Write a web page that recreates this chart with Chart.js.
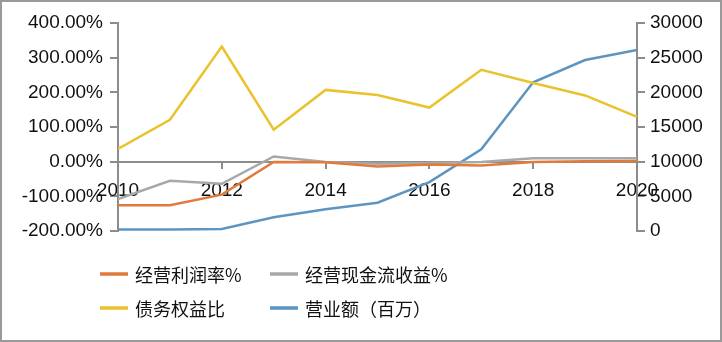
<!DOCTYPE html>
<html>
<head>
<meta charset="utf-8">
<script src="https://cdn.jsdelivr.net/npm/chart.js@4"></script>
<style>
  body { margin: 0; background: #fff; }
  #wrap { width: 722px; height: 342px; }
</style>
</head>
<body>
<div id="wrap"><canvas id="myChart" width="722" height="342"></canvas></div>
<script>
// 年份
const years = [2010, 2011, 2012, 2013, 2014, 2015, 2016, 2017, 2018, 2019, 2020]

// 左轴 (%)
const opMargin = [-126, -126, -95, -1, -2, -14, -8, -11, -1, 1, 2]
const cashYield = [-108, -55, -64, 15, -1, -6, -4, -1, 10, 10, 10]
const debtEquity = [37, 121, 332, 92, 207, 192, 156, 265, 227, 191, 129]

// 右轴 (百万)
const revenue = [200, 200, 300, 1970, 3130, 4080, 7050, 11780, 21440, 24660, 26100]

const seriesNames = ['经营利润率%', '经营现金流收益%', '债务权益比', '营业额（百万）']
const seriesColors = ['#e07b3c', '#a8a8a8', '#eac22e', '#5d95c2']

const leftTicks = [-200, -100, 0, 100, 200, 300, 400]
const rightTicks = [0, 5000, 10000, 15000, 20000, 25000, 30000]

const axisColor = '#8c8c8c'
const tickFont = { family: 'Liberation Sans, Arial, sans-serif', size: 19 }

function pts(arr) {
    return years.map((y, i) => ({ x: y, y: arr[i] }))
}

function line(i, arr, axis) {
    return {
        label: seriesNames[i],
        data: pts(arr),
        yAxisID: axis,
        borderColor: seriesColors[i],
        backgroundColor: seriesColors[i],
        borderWidth: 2.5,
        pointRadius: 0,
        tension: 0
    }
}

// 图例画成两列两行
const legend2x2 = {
    id: 'legend2x2',
    afterDraw(chart) {
        const c = chart.ctx
        const cols = [100, 270]
        const rows = [274, 308]
        c.save()
        c.font = '18px "Noto Sans CJK SC", sans-serif'
        c.textBaseline = 'middle'
        c.fillStyle = '#111'
        seriesNames.forEach((name, i) => {
            const x = cols[i % 2]
            const y = rows[Math.floor(i / 2)]
            c.strokeStyle = seriesColors[i]
            c.lineWidth = 3.5
            c.beginPath()
            c.moveTo(x, y)
            c.lineTo(x + 28, y)
            c.stroke()
            c.fillText(name, x + 35, y + 1)
        })
        // 外框
        c.strokeStyle = '#9a9a9a'
        c.lineWidth = 2
        c.strokeRect(1, 1, chart.width - 2, chart.height - 2)
        c.restore()
    }
}

const ctx = document.getElementById('myChart')

const config = {
    type: 'line',
    data: {
        datasets: [
            line(0, opMargin, 'y'),
            line(1, cashYield, 'y'),
            line(2, debtEquity, 'y'),
            line(3, revenue, 'y1')
        ]
    },
    options: {
        responsive: false,
        animation: false,
        layout: { padding: { left: 0, right: 0, top: 23, bottom: 111 } },
        plugins: {
            legend: { display: false },
            tooltip: { enabled: false }
        },
        scales: {
            x: {
                type: 'linear',
                position: { y: 0 },
                min: 2010,
                max: 2020,
                ticks: {
                    stepSize: 2,
                    color: '#111',
                    font: tickFont,
                    padding: 12,
                    maxRotation: 0,
                    callback: v => String(v)
                },
                grid: { drawOnChartArea: false, tickLength: 6, color: axisColor, lineWidth: 2 },
                border: { color: axisColor, width: 2 }
            },
            y: {
                position: 'left',
                min: -200,
                max: 400,
                afterBuildTicks: s => { s.ticks = leftTicks.map(v => ({ value: v })) },
                afterFit: s => { s.width = 118 },
                ticks: {
                    color: '#111',
                    font: tickFont,
                    padding: 7,
                    callback: v => v.toFixed(2) + '%'
                },
                grid: { drawOnChartArea: false, tickLength: 8, color: axisColor, lineWidth: 2 },
                border: { color: axisColor, width: 2 }
            },
            y1: {
                position: 'right',
                min: 0,
                max: 30000,
                afterBuildTicks: s => { s.ticks = rightTicks.map(v => ({ value: v })) },
                afterFit: s => { s.width = 85 },
                ticks: {
                    color: '#111',
                    font: tickFont,
                    padding: 5,
                    callback: v => String(v)
                },
                grid: { drawOnChartArea: false, tickLength: 8, color: axisColor, lineWidth: 2 },
                border: { color: axisColor, width: 2 }
            }
        }
    },
    plugins: [legend2x2]
}

const myChart = new Chart(ctx, config)
</script>
</body>
</html>
